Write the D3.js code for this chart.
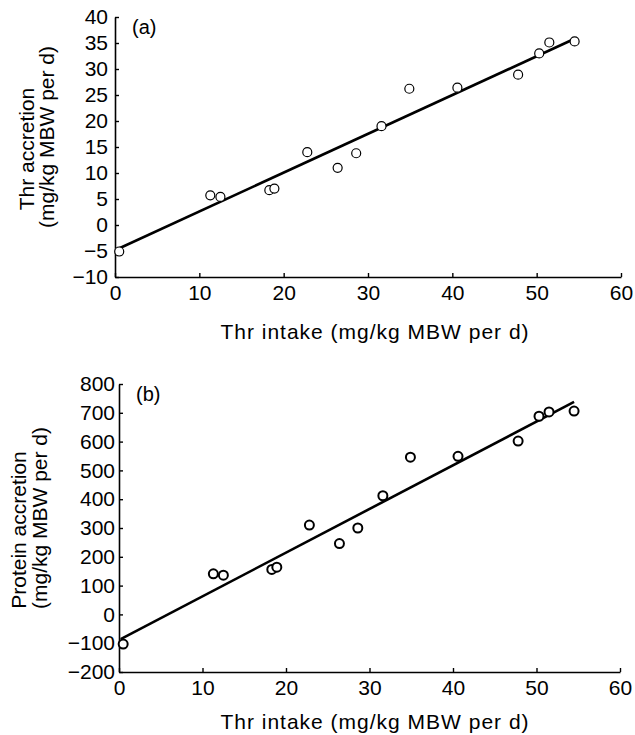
<!DOCTYPE html>
<html>
<head>
<meta charset="utf-8">
<script src="https://cdn.jsdelivr.net/npm/d3@7"></script>
<style>
  body { margin: 0; background: #fff; }
  text { font-family: "Liberation Sans", Arial, sans-serif; fill: #000; }
</style>
</head>
<body>
<div class="chart"></div>
<script>
// Thr intake (mg/kg MBW per d), same birds in both panels
const intake = [0.5, 11.3, 12.5, 18.3, 18.9, 22.8, 26.4, 28.6, 31.6, 34.9, 40.6, 47.8, 50.3, 51.5, 54.5];
const thrAccretion = [-5.1, 5.7, 5.4, 6.7, 7.0, 14.0, 11.0, 13.8, 19.0, 26.2, 26.4, 28.9, 33.0, 35.1, 35.3];
const proteinAccretion = [-103, 141, 136, 156, 164, 310, 246, 300, 412, 546, 549, 602, 688, 703, 706];

// regression lines: [intercept, slope]
const thrFit = [-4.85, 0.746];
const proteinFit = [-89, 15.17];
const fitRange = [0.2, 54.5];

const xTicks = [0, 10, 20, 30, 40, 50, 60];
const thrTicks = [-10, -5, 0, 5, 10, 15, 20, 25, 30, 35, 40];
const proteinTicks = [-200, -100, 0, 100, 200, 300, 400, 500, 600, 700, 800];

const width = 635, height = 735;

const svg = d3.select(".chart")
  .append("svg")
  .attr("width", width)
  .attr("height", height);

function drawPanel(opts) {
  let x = d3.scaleLinear().domain([0, 60]).range([opts.left, opts.right]);
  let y = d3.scaleLinear().domain(opts.yDomain).range([opts.bottom, opts.top]);

  let g = svg.append("g");

  let xAxis = g.append("g")
    .attr("transform", "translate(0," + opts.bottom + ")")
    .call(d3.axisBottom(x).tickValues(xTicks).tickSizeInner(-4).tickSizeOuter(0).tickPadding(opts.xPad));

  let yAxis = g.append("g")
    .attr("transform", "translate(" + opts.left + ",0)")
    .call(d3.axisLeft(y).tickValues(opts.yTicks).tickSizeInner(-4).tickSizeOuter(0).tickPadding(opts.yPad));

  [xAxis, yAxis].forEach(a => {
    a.attr("font-family", null).attr("font-size", 21);
    a.select(".domain").attr("stroke-width", 1.6);
    a.selectAll(".tick line").attr("stroke-width", 1.4);
  });

  // fitted line
  let line = d3.line().x(d => x(d)).y(d => y(opts.fit[0] + opts.fit[1] * d));
  g.append("path")
    .attr("d", line(fitRange))
    .attr("fill", "none")
    .attr("stroke", "#000")
    .attr("stroke-width", 2.6);

  g.append("g")
    .selectAll("circle")
    .data(opts.values)
    .join("circle")
    .attr("cx", (d, i) => x(intake[i]))
    .attr("cy", d => y(d))
    .attr("r", 4.5)
    .attr("fill", "#fff")
    .attr("stroke", "#000")
    .attr("stroke-width", opts.markerStroke);

  g.append("text")
    .attr("x", opts.left + 17)
    .attr("y", opts.top + 17)
    .attr("font-size", 20)
    .text(opts.tag);

  g.append("text")
    .attr("x", 375)
    .attr("y", opts.bottom + opts.xTitleGap)
    .attr("text-anchor", "middle")
    .attr("font-size", 21)
    .attr("letter-spacing", 1)
    .text("Thr intake (mg/kg MBW per d)");

  let cy = (opts.top + opts.bottom) / 2;
  let shift = [2, -10];
  opts.yTitle.forEach((t, i) => {
    g.append("text")
      .attr("transform", "translate(" + opts.titleX[i] + "," + (cy + shift[i]) + ") rotate(-90)")
      .attr("text-anchor", "middle")
      .attr("font-size", 21)
      .text(t);
  });
}

drawPanel({
  left: 115, right: 621, top: 17, bottom: 277,
  yDomain: [-10, 40], yTicks: thrTicks, values: thrAccretion, fit: thrFit,
  xPad: 8, yPad: 7, markerStroke: 1.2, tag: "(a)", xTitleGap: 62,
  yTitle: ["Thr accretion", "(mg/kg MBW per d)"], titleX: [34, 54]
});

drawPanel({
  left: 119, right: 620, top: 384, bottom: 672,
  yDomain: [-200, 800], yTicks: proteinTicks, values: proteinAccretion, fit: proteinFit,
  xPad: 8, yPad: 4, markerStroke: 2, tag: "(b)", xTitleGap: 57,
  yTitle: ["Protein accretion", "(mg/kg MBW per d)"], titleX: [26, 47]
});
</script>
</body>
</html>
